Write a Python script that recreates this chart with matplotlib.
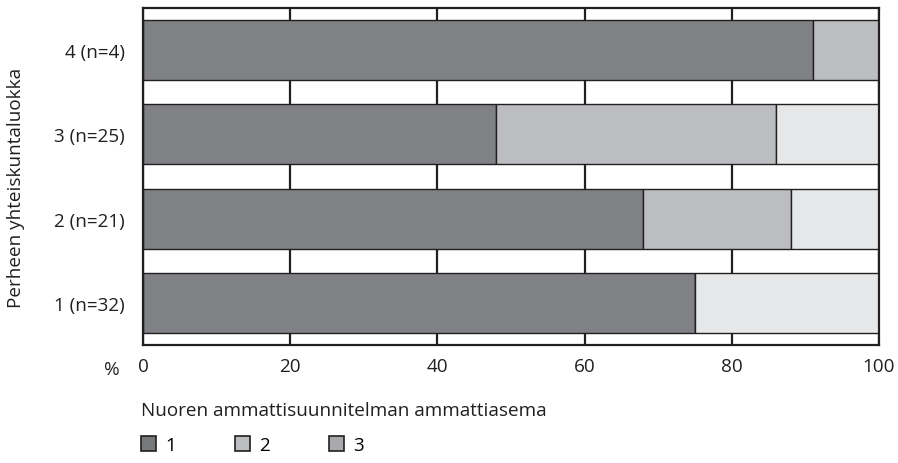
import matplotlib.pyplot as plt
from matplotlib.patches import Patch
import numpy as np

plt.rcParams["font.family"] = ["Open Sans", "DejaVu Sans"]

# data (percent shares)
categories = ["1 (n=32)", "2 (n=21)", "3 (n=25)", "4 (n=4)"]
series_names = ["1", "2", "3"]
share_1 = [75, 68, 48, 91]
share_2 = [0, 20, 38, 9]
share_3 = [25, 12, 14, 0]

bar_colors = ["#808184", "#bcbdc0", "#e6e7e8"]
legend_colors = ["#77787b", "#bcbdc0", "#a7a9ac"]
edge = "#231f20"
fs = 13.6

fig = plt.figure(figsize=(8.98, 4.64), dpi=100)
ax = fig.add_axes([143 / 898, 1 - 346 / 464, 736 / 898, 337 / 464])

y = np.arange(len(categories))
left = np.zeros(len(categories))
for vals, col in zip([share_1, share_2, share_3], bar_colors):
    vals = np.asarray(vals, dtype=float)
    ax.barh(y, vals, left=left, height=0.714, color=col,
            edgecolor=edge, linewidth=1.0, zorder=3)
    left += vals

ax.set_xlim(0, 100)
ax.set_ylim(-0.5, 3.5)
ax.set_xticks([0, 20, 40, 60, 80, 100])
ax.set_yticks(y)
ax.set_yticklabels(categories, fontsize=fs, color="#231f20")
ax.tick_params(axis="x", labelsize=fs, length=0, pad=9, colors="#231f20")
ax.tick_params(axis="y", length=0, pad=13)
ax.grid(axis="x", color=edge, linewidth=1.6, zorder=1)
for s in ax.spines.values():
    s.set_linewidth(1.6)
    s.set_color(edge)
    s.set_zorder(4)

ax.set_ylabel("Perheen yhteiskuntaluokka", fontsize=fs, color="#231f20")
ax.yaxis.set_label_coords(-0.160, 0.47)
fig.text(112 / 898, 1 - 370 / 464, "%", fontsize=fs, ha="center", va="center", color="#231f20")
fig.text(141 / 898, 1 - 411 / 464, "Nuoren ammattisuunnitelman ammattiasema",
         fontsize=fs, ha="left", va="center", color="#231f20")

handles = [Patch(facecolor=c, edgecolor=edge, linewidth=1.2) for c in legend_colors]
fig.legend(handles, series_names, loc="center left",
           bbox_to_anchor=(141 / 898, 1 - 446 / 464), ncol=3, frameon=False,
           fontsize=fs, handlelength=0.8, handleheight=0.8,
           handletextpad=0.5, columnspacing=3.1, borderaxespad=0, borderpad=0)

fig.savefig("out.png", dpi=100)
